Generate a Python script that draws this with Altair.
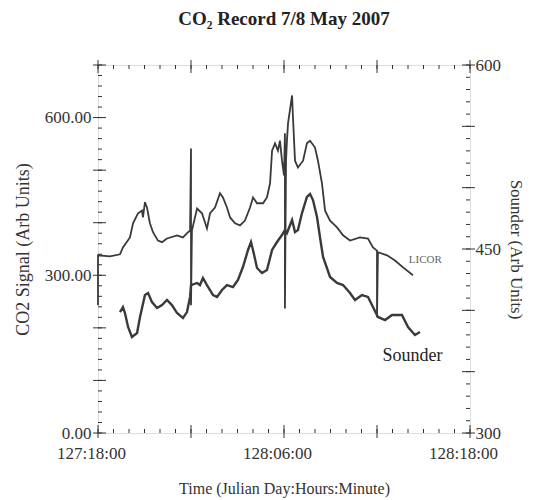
import altair as alt
import pandas as pd

# ---- data (hours since day 127 00:00, signal values) ----
licor_hours = [18.00, 18.00, 18.77, 19.42, 19.61, 20.06, 20.26, 20.58, 20.84, 20.90,
               21.03, 21.16, 21.35, 21.55, 21.87, 22.13, 22.45, 23.10, 23.48, 23.81,
               23.94, 24.00, 24.00, 24.06, 24.39, 24.71, 25.03, 25.23, 25.55, 25.87,
               26.06, 26.32, 26.52, 26.84, 27.16, 27.48, 27.81, 28.00, 28.26, 28.65,
               28.90, 29.10, 29.23, 29.42, 29.61, 29.74, 29.87, 30.00, 30.06, 30.06,
               30.13, 30.19, 30.26, 30.52, 30.58, 30.71, 30.90, 31.23, 31.48, 31.68,
               32.00, 32.19, 32.45, 32.65, 32.97, 33.42, 33.81, 34.26, 34.90, 35.42,
               35.74, 36.00, 36.00, 36.06, 36.65, 37.16, 37.68, 38.32]
licor_values = [243, 338, 336, 340, 353, 372, 399, 418, 423, 410,
                439, 429, 399, 382, 366, 363, 370, 376, 372, 382,
                385, 541, 243, 385, 427, 418, 389, 418, 429, 456,
                448, 429, 410, 399, 395, 404, 429, 448, 437, 437,
                448, 475, 537, 551, 537, 556, 518, 490, 570, 237,
                518, 556, 589, 642, 600, 518, 505, 518, 551, 556,
                543, 518, 475, 423, 404, 391, 376, 366, 372, 370,
                353, 347, 220, 344, 338, 328, 315, 300]

sounder_hours = [19.42, 19.61, 19.74, 19.94, 20.19, 20.52, 20.71, 21.03, 21.23, 21.48,
                 21.81, 22.13, 22.45, 22.77, 23.10, 23.48, 23.74, 23.94, 24.00, 24.39,
                 24.58, 24.77, 25.03, 25.42, 25.68, 26.00, 26.32, 26.71, 27.03, 27.35,
                 27.68, 27.87, 28.00, 28.26, 28.58, 28.90, 29.23, 29.55, 29.87, 30.06,
                 30.19, 30.52, 30.71, 30.90, 31.16, 31.48, 31.68, 31.87, 32.13, 32.32,
                 32.52, 32.97, 33.42, 33.81, 34.26, 34.58, 35.03, 35.42, 35.74, 36.06,
                 36.52, 36.97, 37.61, 38.00, 38.45, 38.77]
sounder_values = [398.6, 402.7, 397.8, 386.4, 378.3, 381.5, 394.6, 412.5, 414.1, 406.8,
                  401.9, 404.3, 408.4, 404.3, 397.8, 393.7, 398.6, 410.9, 420.6, 422.3,
                  420.6, 426.4, 420.6, 412.5, 410.9, 416.6, 420.6, 419.0, 424.7, 435.3,
                  449.2, 455.7, 449.2, 434.5, 430.4, 432.9, 449.2, 455.7, 461.4, 465.5,
                  463.0, 473.6, 463.9, 465.5, 479.3, 492.4, 494.8, 489.9, 476.1, 459.8,
                  443.5, 427.2, 422.3, 420.6, 414.1, 408.4, 412.5, 410.9, 402.7, 394.6,
                  392.1, 396.2, 396.2, 386.4, 379.9, 382.3]

x_major = [18, 24, 30, 36, 42]
x_label_vals = [18, 30, 42]
x_label_text = ["127:18:00", "128:06:00", "128:18:00"]
x_minor = list(range(18, 43))
left_major = [0, 100, 200, 300, 400, 500, 600, 700]
left_labeled = [0, 300, 600]
left_minor = list(range(0, 701, 20))
right_major = [300, 350, 400, 450, 500, 550, 600]
right_labeled = [300, 450, 600]
right_minor = list(range(300, 601, 10))

series_labels = ["LICOR", "Sounder"]
label_hours = [38.05, 36.35]
label_values = [329, 363]

W, H = 372, 368
FONT = "Liberation Serif"
INK = "#333333"

xs = alt.Scale(domain=[18, 42], nice=False, zero=False)
ls = alt.Scale(domain=[0, 700], nice=False, zero=True)
rs = alt.Scale(domain=[300, 600], nice=False, zero=False)

x_expr = " : ".join(f"datum.value == {v} ? '{t}'" for v, t in zip(x_label_vals, x_label_text)) + " : ''"

licor_df = pd.DataFrame({"h": licor_hours, "v": licor_values, "i": range(len(licor_hours))})
sounder_df = pd.DataFrame({"h": sounder_hours, "v": sounder_values, "i": range(len(sounder_hours))})

x_axis = alt.Axis(values=x_major, labelExpr=x_expr, title="Time (Julian Day:Hours:Minute)",
                  ticks=False, domain=False, grid=False, labelPadding=12, titlePadding=19,
                  labelFlush=False, labelOverlap=False, labelBound=False, labelOffset=-7,
                  labelFont=FONT, labelFontSize=17, titleFont=FONT, titleFontSize=16,
                  titleFontWeight="normal", labelColor=INK, titleColor=INK)
X = alt.X("h:Q", scale=xs, axis=x_axis)

licor = alt.Chart(licor_df).mark_line(color="#3a3a3a", strokeWidth=1.8).encode(
    x=X,
    y=alt.Y("v:Q", scale=ls, axis=alt.Axis(
        orient="left", values=left_major,
        labelExpr=f"indexof({left_labeled}, datum.value) >= 0 ? format(datum.value, '.2f') : ''",
        title="CO2 Signal (Arb Units)", ticks=False, domain=False, grid=False,
        labelFlush=False, labelOverlap=False,
        labelPadding=7, titlePadding=12, labelFont=FONT, labelFontSize=17,
        titleFont=FONT, titleFontSize=18, titleFontWeight="normal",
        labelColor=INK, titleColor=INK)),
    order="i:Q",
)

sounder = alt.Chart(sounder_df).mark_line(color="#3a3a3a", strokeWidth=2.4).encode(
    x=X,
    y=alt.Y("v:Q", scale=rs, axis=alt.Axis(
        orient="right", values=right_major,
        labelExpr=f"indexof({right_labeled}, datum.value) >= 0 ? format(datum.value, 'd') : ''",
        title="Sounder (Arb Units)", ticks=False, domain=False, grid=False,
        labelFlush=False, labelOverlap=False,
        labelPadding=5, titlePadding=6, labelFont=FONT, labelFontSize=17,
        titleFont=FONT, titleFontSize=17, titleFontWeight="normal",
        labelColor=INK, titleColor=INK)),
    order="i:Q",
)

def xticks(vals, y0, y1):
    return alt.Chart(pd.DataFrame({"h": vals})).mark_rule(color=INK, strokeWidth=1).encode(
        x=X, y=alt.value(y0), y2=alt.value(y1))

def yticks(vals, scale, x0, x1):
    return alt.Chart(pd.DataFrame({"v": vals})).mark_rule(color=INK, strokeWidth=1).encode(
        y=alt.Y("v:Q", scale=scale, axis=None), x=alt.value(x0), x2=alt.value(x1))

tick_layers = [
    xticks(x_minor, H, H - 4), xticks(x_major, H + 5, H - 8),
    xticks(x_minor, 0, 4), xticks(x_major, -5, 8),
    yticks(left_minor, ls, 0, 4), yticks(left_major, ls, -5, 8),
    yticks(right_minor, rs, W, W - 4), yticks(right_major, rs, W + 5, W - 8),
]

lab_df = pd.DataFrame({"name": series_labels, "h": label_hours, "v": label_values})
licor_lab = alt.Chart(lab_df.iloc[[0]]).mark_text(
    align="left", baseline="middle", font=FONT, fontSize=11, color="#666666").encode(
    x=X, y=alt.Y("v:Q", scale=ls, axis=None), text="name:N")
sounder_lab = alt.Chart(lab_df.iloc[[1]]).mark_text(
    align="left", baseline="middle", font=FONT, fontSize=18, color="#222222").encode(
    x=X, y=alt.Y("v:Q", scale=rs, axis=None), text="name:N")

chart = alt.layer(licor, sounder, *tick_layers, licor_lab, sounder_lab).resolve_scale(
    y="independent"
).properties(
    width=W, height=H,
    title=alt.TitleParams("CO₂ Record 7/8 May 2007", font=FONT, fontSize=19,
                          fontWeight="bold", color="#222222", offset=27, anchor="middle"),
    autosize=alt.AutoSizeParams(type="none"),
    padding={"left": 90, "top": 57, "right": 55, "bottom": 67},
).configure_view(stroke="#333333", strokeWidth=1.2).configure(background="white")

chart.save("out.html", embed_options={"renderer": "svg", "actions": False})
